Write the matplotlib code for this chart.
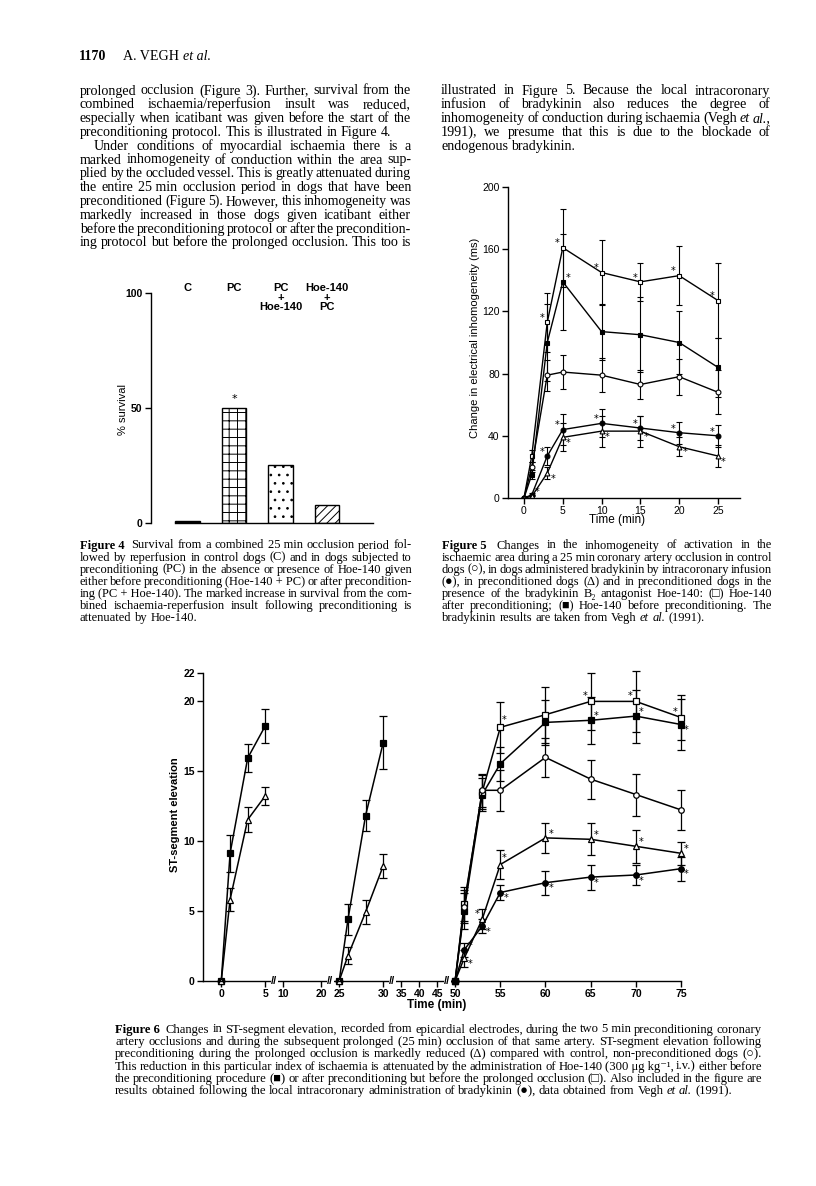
import numpy as np
import matplotlib
matplotlib.use("Agg")
import matplotlib.pyplot as plt
from matplotlib.transforms import blended_transform_factory

# ---------------- data ----------------
# Figure 4
cats4 = ["C", "PC", "PC\n+\nHoe-140", "Hoe-140\n+\nPC"]
survival4 = [1, 50, 25, 8]

# Figure 5 (time in min, change in inhomogeneity in ms)
t5 = [0, 1, 3, 5, 10, 15, 20, 25]
ctrl5 = [0, 20, 79, 81, 79, 73, 78, 68]
ctrl5_err = [0, 3, 10, 11, 11, 9.5, 11.5, 14]
brady5 = [0, 2, 27, 44, 48, 45, 42, 40]
brady5_err = [0, 1, 6, 10, 9, 8, 7, 7]
pc5 = [0, 1, 16, 39, 43, 43, 33, 27]
pc5_err = [0, 1, 4, 9, 10, 10, 6, 7]
hoe_after5 = [0, 27, 113, 161, 145, 139, 143, 127]
hoe_after5_err = [0, 4, 19, 25, 21, 12, 19, 24]
hoe_before5 = [0, 15, 100, 139, 107, 105, 100, 84]
hoe_before5_err = [0, 3, 25, 31, 18, 24, 20, 19]

# Figure 6 (ST-segment elevation)
t6_all = [0, 1, 3, 5, np.nan, 25, 26, 28, 30, np.nan, 50, 51, 53, 55, 60, 65, 70, 75]
hoe_before6 = [0, 9.1, 15.9, 18.2, np.nan, 0, 4.4, 11.8, 17.0, np.nan, 0, 5.0, 13.3, 15.5, 18.45, 18.6, 18.9, 18.3]
hoe_before6_err = [0, 1.3, 1.0, 1.2, np.nan, 0, 1.1, 1.1, 1.9, np.nan, 0, 1.3, 1.2, 1.2, 1.6, 1.7, 1.9, 1.8]
pc6 = [0, 5.8, 11.5, 13.2, np.nan, 0, 1.8, 4.9, 8.2, np.nan, 0, 1.6, 4.4, 8.3, 10.2, 10.1, 9.6, 9.1]
pc6_err = [0, 0.8, 0.9, 0.65, np.nan, 0, 0.6, 0.85, 0.85, np.nan, 0, 0.6, 0.7, 1.05, 1.1, 1.15, 1.2, 0.8]
t6_occl = [50, 51, 53, 55, 60, 65, 70, 75]
hoe_after6 = [0, 5.5, 13.5, 18.1, 19.0, 19.95, 19.95, 18.8]
hoe_after6_err = [0, 1.2, 1.2, 1.8, 2.0, 2.05, 2.2, 1.6]
ctrl6 = [0, 5.3, 13.6, 13.6, 15.95, 14.4, 13.3, 12.2]
ctrl6_err = [0, 1.2, 1.2, 1.45, 1.4, 1.4, 1.5, 1.4]
brady6 = [0, 2.2, 3.9, 6.3, 7.0, 7.4, 7.55, 8.0]
brady6_err = [0, 0.5, 0.5, 0.55, 0.85, 0.9, 0.7, 0.85]
xticks6 = [0, 5, 10, 20, 25, 30, 35, 40, 45, 50, 55, 60, 65, 70, 75]

# ---------------- page text ----------------
left_col = [
    ("prolonged occlusion (Figure 3). Further, survival from the", True, 0),
    ("combined ischaemia/reperfusion insult was reduced,", True, 0),
    ("especially when icatibant was given before the start of the", True, 0),
    ("preconditioning protocol. This is illustrated in Figure 4.", False, 0),
    ("Under conditions of myocardial ischaemia there is a", True, 14),
    ("marked inhomogeneity of conduction within the area sup-", True, 0),
    ("plied by the occluded vessel. This is greatly attenuated during", True, 0),
    ("the entire 25~min occlusion period in dogs that have been", True, 0),
    ("preconditioned (Figure 5). However, this inhomogeneity was", True, 0),
    ("markedly increased in those dogs given icatibant either", True, 0),
    ("before the preconditioning protocol or after the precondition-", True, 0),
    ("ing protocol but before the prolonged occlusion. This too is", True, 0),
]
right_col = [
    ("illustrated in Figure 5. Because the local intracoronary", True, 0),
    ("infusion of bradykinin also reduces the degree of", True, 0),
    ("inhomogeneity of conduction during ischaemia (Vegh ^et ^al.,", True, 0),
    ("1991), we presume that this is due to the blockade of", True, 0),
    ("endogenous bradykinin.", False, 0),
]
cap4 = [
    ("#Figure~4~ Survival from a combined 25~min occlusion period fol-", True, 0),
    ("lowed by reperfusion in control dogs (C) and in dogs subjected to", True, 0),
    ("preconditioning (PC) in the absence or presence of Hoe-140 given", True, 0),
    ("either before preconditioning (Hoe-140~+~PC) or after precondition-", True, 0),
    ("ing (PC~+~Hoe-140). The marked increase in survival from the com-", True, 0),
    ("bined ischaemia-reperfusion insult following preconditioning is", True, 0),
    ("attenuated by Hoe-140.", False, 0),
]
cap5 = [
    ("#Figure~5~ Changes in the inhomogeneity of activation in the", True, 0),
    ("ischaemic area during a 25~min coronary artery occlusion in control", True, 0),
    ("dogs (○), in dogs administered bradykinin by intracoronary infusion", True, 0),
    ("(●), in preconditioned dogs (Δ) and in preconditioned dogs in the", True, 0),
    ("presence of the bradykinin B₂ antagonist Hoe-140: (□) Hoe-140", True, 0),
    ("after preconditioning; (■) Hoe-140 before preconditioning. The", True, 0),
    ("bradykinin results are taken from Vegh ^et ^al. (1991).", False, 0),
]
cap6 = [
    ("#Figure~6~ Changes in ST-segment elevation, recorded from epicardial electrodes, during the two 5~min preconditioning coronary", True, 0),
    ("artery occlusions and during the subsequent prolonged (25~min) occlusion of that same artery. ST-segment elevation following", True, 0),
    ("preconditioning during the prolonged occlusion is markedly reduced (Δ) compared with control, non-preconditioned dogs (○).", True, 0),
    ("This reduction in this particular index of ischaemia is attenuated by the administration of Hoe-140 (300~μg~kg⁻¹, i.v.) either before", True, 0),
    ("the preconditioning procedure (■) or after preconditioning but before the prolonged occlusion (□). Also included in the figure are", True, 0),
    ("results obtained following the local intracoronary administration of bradykinin (●), data obtained from Vegh ^et ^al. (1991).", False, 0),
]

# ---------------- figure ----------------
plt.rcParams["hatch.linewidth"] = 0.7

W, H = 816, 1186
fig = plt.figure(figsize=(W / 100, H / 100), dpi=100)
fig.patch.set_facecolor("white")
renderer = fig.canvas.get_renderer()
SERIF = ["Liberation Serif", "DejaVu Serif"]
SANS = ["Liberation Sans", "DejaVu Sans"]


def fx(px):
    return px / W


def fy(py):
    return 1 - py / H


def axes_px(l, t, r, b):
    return fig.add_axes([fx(l), fy(b), (r - l) / W, (b - t) / H])


def make_words(line, yc, size):
    arts = []
    for tok in line.split(" "):
        style, weight = "normal", "normal"
        if tok.startswith("^"):
            style, tok = "italic", tok[1:]
        if tok.startswith("#"):
            weight, tok = "bold", tok[1:]
        tok = tok.replace("~", " ")
        arts.append(fig.text(0, fy(yc + 3.5), tok, fontsize=size, family=SERIF,
                             style=style, weight=weight, va="baseline", ha="left"))
    return arts


def natural_width(line, size, space=0.22):
    arts = make_words(line, 0, size)
    w = sum(a.get_window_extent(renderer).width for a in arts)
    w += space * size * 100 / 72 * (len(arts) - 1)
    for a in arts:
        a.remove()
    return w


def fit_size(blocks, base=9.0):
    ratios = []
    for lines, width in blocks:
        ratios += [(width - ind) / natural_width(ln, base) for ln, just, ind in lines if just]
    return base * (0.5 * min(ratios) + 0.5 * float(np.median(ratios)))


def put_line(line, x0, x1, yc, size, justify=True, indent=0):
    while True:
        arts = make_words(line, yc, size)
        widths = [a.get_window_extent(renderer).width for a in arts]
        n = len(arts)
        em = size * 100 / 72
        start = x0 + indent
        if justify and n > 1:
            gap = (x1 - start - sum(widths)) / (n - 1)
        else:
            gap = 0.25 * em
        if gap < 0.13 * em:
            for a in arts:
                a.remove()
            size *= 0.99
            continue
        x = start
        for a, w in zip(arts, widths):
            a.set_x(fx(x))
            x += w + gap
        break


def put_block(lines, x0, x1, y0, step, size):
    for i, (ln, just, ind) in enumerate(lines):
        put_line(ln, x0, x1, y0 + i * step, size, just, ind)


BODY_L = (80, 411)
BODY_R = (441, 770)
CAP4 = (80, 412)
CAP5 = (442, 772)
CAP6 = (115, 762)
body_size = fit_size([(left_col, BODY_L[1] - BODY_L[0]), (right_col, BODY_R[1] - BODY_R[0])])
cap_size = fit_size([(cap4, CAP4[1] - CAP4[0]), (cap5, CAP5[1] - CAP5[0])])
cap6_size = fit_size([(cap6, CAP6[1] - CAP6[0])])

# header
h1 = fig.text(fx(79), fy(60.5), "1170", fontsize=body_size, family=SERIF, weight="bold", va="baseline")
h2 = fig.text(fx(123), fy(60.5), "A. VEGH", fontsize=body_size, family=SERIF, va="baseline")
w2 = h2.get_window_extent(renderer).width
fig.text(fx(123 + w2 + 4), fy(60.5), "et al.", fontsize=body_size, family=SERIF, style="italic", va="baseline")

put_block(left_col, *BODY_L, 91, 13.8, body_size)
put_block(right_col, *BODY_R, 91, 13.8, body_size)
put_block(cap4, *CAP4, 545, 12.1, cap_size)
put_block(cap5, *CAP5, 545, 12.1, cap_size)
put_block(cap6, *CAP6, 1029, 12.35, cap6_size)


def style_axes(ax, size, weight="normal"):
    for s in ["top", "right"]:
        ax.spines[s].set_visible(False)
    for s in ["left", "bottom"]:
        ax.spines[s].set_linewidth(1.0)
    ax.tick_params(direction="out", length=4, width=1.0, labelsize=size, pad=2)
    for lab in ax.get_xticklabels() + ax.get_yticklabels():
        lab.set_family(SANS)
        lab.set_weight(weight)


# ---------- Figure 4 ----------
ax4 = axes_px(151, 293, 373, 523)
x4 = np.arange(len(cats4))
bars = ax4.bar(x4, survival4, width=0.52, color="white", edgecolor="black", linewidth=1.0)
for b, h, fc in zip(bars, ["", "++", "..", "////"], ["black", "white", "white", "white"]):
    b.set_hatch(h)
    b.set_facecolor(fc)
ax4.set_xlim(-0.785, 3.99)
ax4.set_ylim(0, 100)
ax4.set_xticks([])
ax4.set_yticks([0, 50, 100])
style_axes(ax4, 7.5, "bold")
ax4.spines["bottom"].set_bounds(-0.27, 3.99)
ax4.spines["left"].set_bounds(0, 100)
tr4 = blended_transform_factory(ax4.transData, fig.transFigure)
for i, lab in enumerate(cats4):
    ax4.text(i, fy(283), lab, transform=tr4, ha="center", va="top", fontsize=8,
             family=SANS, linespacing=0.95, weight="bold")
ax4.annotate("*", xy=(1, survival4[1]), xytext=(0, 3), textcoords="offset points",
             ha="center", va="bottom", fontsize=8)
fig.text(fx(123), fy(410), "% survival", rotation=90, ha="center", va="center",
         fontsize=8, family=SANS)

# ---------- Figure 5 ----------
ax5 = axes_px(508, 187, 740, 498)
ekw = dict(color="black", lw=1.0, capsize=2.5, elinewidth=0.8, capthick=0.8, mec="black", mew=0.8)
ax5.errorbar(t5, hoe_after5, yerr=hoe_after5_err, marker="s", ms=3.5, mfc="white", **ekw)
ax5.errorbar(t5, hoe_before5, yerr=hoe_before5_err, marker="s", ms=3.5, mfc="black", **ekw)
ax5.errorbar(t5, ctrl5, yerr=ctrl5_err, marker="o", ms=3.5, mfc="white", **ekw)
ax5.errorbar(t5, brady5, yerr=brady5_err, marker="o", ms=3.5, mfc="black", **ekw)
ax5.errorbar(t5, pc5, yerr=pc5_err, marker="^", ms=3.5, mfc="white", **ekw)
ax5.set_xlim(-2.06, 27.84)
ax5.set_ylim(0, 200)
ax5.set_xticks([0, 5, 10, 15, 20, 25])
ax5.set_yticks([0, 40, 80, 120, 160, 200])
style_axes(ax5, 7.5)

OFF = {"L": (-4, 3), "R": (4, 3), "RB": (4, -4), "LB": (-4, -4), "U": (2, 5),
       "LU": (-4, 4), "RU": (3, 5), "RD": (4, -4)}


def stars(ax, t, y, spec, size=7):
    for tt, d in spec:
        i = list(t).index(tt)
        ax.annotate("*", xy=(tt, y[i]), xytext=OFF[d], textcoords="offset points",
                    ha="center", va="center", fontsize=size, annotation_clip=False)


stars(ax5, t5, hoe_after5, [(3, "L"), (5, "L"), (10, "L"), (15, "L"), (20, "L"), (25, "L")])
stars(ax5, t5, hoe_before5, [(5, "R")])
stars(ax5, t5, brady5, [(3, "L"), (5, "L"), (10, "L"), (15, "L"), (20, "L"), (25, "L")])
stars(ax5, t5, pc5, [(1, "R"), (3, "RB"), (5, "RB"), (10, "RB"), (15, "RB"), (20, "RB"), (25, "RB")])
fig.text(fx(617), fy(520), "Time (min)", ha="center", va="center", fontsize=8.5, family=SANS)
fig.text(fx(475), fy(338), "Change in electrical inhomogeneity (ms)", rotation=90,
         ha="center", va="center", fontsize=8, family=SANS)

# ---------- Figure 6 ----------
ax6 = axes_px(203, 672.7, 681, 980.7)
Vb = [-10, 0, 5, 10, 20, 25, 30, 50, 75, 100]
Pb = [-88, 0, 44, 62, 100, 118, 162, 234, 460, 686]
ax6.set_xscale("function", functions=(lambda v: np.interp(v, Vb, Pb),
                                      lambda p: np.interp(p, Pb, Vb)))
ekw6 = dict(color="black", lw=1.1, capsize=3, elinewidth=0.9, capthick=0.9, mec="black", mew=0.9)
ax6.errorbar(t6_all, hoe_before6, yerr=hoe_before6_err, marker="s", ms=4, mfc="black", **ekw6)
ax6.errorbar(t6_all, pc6, yerr=pc6_err, marker="^", ms=4, mfc="white", **ekw6)
ax6.errorbar(t6_occl, hoe_after6, yerr=hoe_after6_err, marker="s", ms=4, mfc="white", **ekw6)
ax6.errorbar(t6_occl, ctrl6, yerr=ctrl6_err, marker="o", ms=4, mfc="white", **ekw6)
ax6.errorbar(t6_occl, brady6, yerr=brady6_err, marker="o", ms=4, mfc="black", **ekw6)
ax6.set_xlim(-2.08, 75)
ax6.set_ylim(0, 22)
ax6.set_xticks(xticks6)
ax6.set_xticklabels([str(v) for v in xticks6])
ax6.set_yticks([0, 5, 10, 15, 20, 22])
ax6.minorticks_off()
style_axes(ax6, 7.5, "bold")
for c in ax6.get_children():
    if hasattr(c, "set_clip_on"):
        c.set_clip_on(False)

stars(ax6, t6_occl, hoe_after6, [(55, "RU"), (65, "LU"), (70, "LU"), (75, "LU")])
stars(ax6, t6_occl, hoe_before6[10:], [(65, "R"), (70, "R"), (75, "RD")])
stars(ax6, t6_occl, pc6[10:], [(51, "RD"), (53, "LU"), (55, "RU"), (60, "R"), (65, "R"), (70, "R"), (75, "R")])
stars(ax6, t6_occl, brady6, [(51, "R"), (53, "RD"), (55, "RD"), (60, "RD"), (65, "RD"), (70, "RD"), (75, "RD")])

trb = blended_transform_factory(ax6.transData, ax6.transAxes)
for bx in [7.5, 22.5, 32.5, 47.8]:
    ax6.text(bx, 0, "//", transform=trb, ha="center", va="center", fontsize=8, weight="bold",
             family=SANS, bbox=dict(fc="white", ec="none", pad=0.4), zorder=6, clip_on=False)

fig.text(fx(437), fy(1005), "Time (min)", ha="center", va="center", fontsize=8.5,
         family=SANS, weight="bold")
fig.text(fx(175), fy(815), "ST-segment elevation", rotation=90, ha="center", va="center",
         fontsize=8, family=SANS, weight="bold")

fig.savefig("out.png", dpi=100, facecolor="white")
